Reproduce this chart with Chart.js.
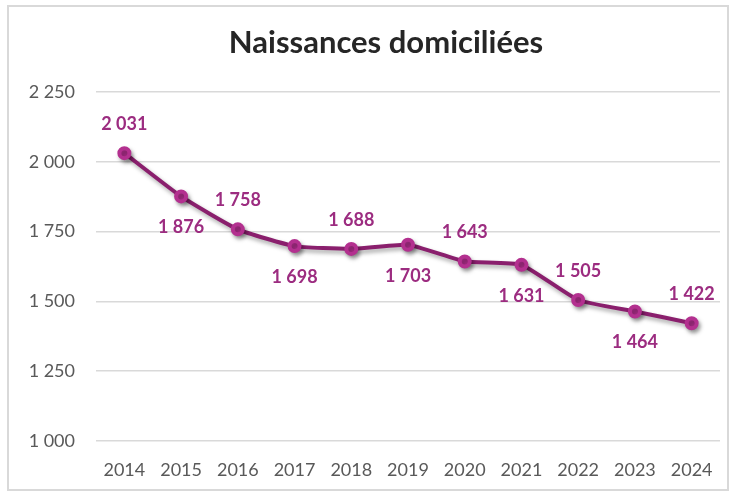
<!DOCTYPE html>
<html lang="fr">
<head>
<meta charset="utf-8">
<title>Naissances domiciliées</title>
<script src="https://cdn.jsdelivr.net/npm/chart.js@4"></script>
<style>
    html, body { margin: 0; padding: 0; background: #fff; }
    #wrap { position: relative; width: 736px; height: 493px; }
</style>
</head>
<body>
<div id="wrap"><canvas id="births"></canvas></div>
<script>
/* ---------- Data ---------- */
const chartTitle = 'Naissances domiciliées';
const years = ['2014', '2015', '2016', '2017', '2018', '2019', '2020', '2021', '2022', '2023', '2024'];
const births = [2031, 1876, 1758, 1698, 1688, 1703, 1643, 1631, 1505, 1464, 1422];
const yTicks = [1000, 1250, 1500, 1750, 2000, 2250];

/* ---------- Helpers ---------- */
const fmt = v => String(v).replace(/\B(?=(\d{3})+(?!\d))/g, ' ');

// grey frame + title (title is centred on the Excel chart box, not the canvas)
const frame = {
    id: 'frame',
    beforeDraw(chart) {
        const c = chart.ctx;
        c.save();
        c.strokeStyle = '#d9d9d9';
        c.lineWidth = 2;
        c.strokeRect(8, 6, 720, 484);
        c.fillStyle = '#262626';
        c.font = 'bold 31px Lato';
        c.textAlign = 'center';
        c.textBaseline = 'middle';
        c.fillText(chartTitle, 386, 43);
        c.restore();
    }
};

// soft drop shadow under the line + value labels
const lineShadow = {
    id: 'lineShadow',
    beforeDatasetsDraw(chart) {
        const c = chart.ctx;
        c.save();
        c.shadowColor = 'rgba(0,0,0,0.35)';
        c.shadowBlur = 4;
        c.shadowOffsetX = 2;
        c.shadowOffsetY = 3;
    },
    afterDatasetsDraw(chart) {
        const c = chart.ctx;
        c.restore();
        const meta = chart.getDatasetMeta(0);
        c.save();
        c.font = 'bold 18px Lato';
        c.fillStyle = '#9c2c80';
        c.textAlign = 'center';
        c.textBaseline = 'middle';
        meta.data.forEach((pt, i) => {
            // labels alternate above / below the points
            const dy = i % 2 === 0 ? -29 : 31;
            c.fillText(fmt(births[i]), pt.x, pt.y + dy);
        });
        c.restore();
    }
};

/* ---------- Chart ---------- */
new Chart(document.getElementById('births'), {
    type: 'line',
    data: {
        labels: years,
        datasets: [{
            data: births,
            borderColor: '#8a1f6d',
            borderWidth: 4,
            pointBackgroundColor: '#b3308f',
            pointBorderColor: '#b3308f',
            pointRadius: 5,
            tension: 0.15
        }]
    },
    options: {
        responsive: true,
        maintainAspectRatio: false,
        animation: false,
        layout: { padding: { left: 25, right: 16, top: 92, bottom: 12 } },
        plugins: {
            legend: { display: false },
            tooltip: { enabled: false },
            title: { display: false }
        },
        scales: {
            x: {
                offset: true,
                afterFit(scale) { scale.height = 40; },
                grid: { display: false, drawTicks: false },
                border: { display: false },
                ticks: {
                    color: '#595959',
                    font: { family: 'Lato', size: 18 },
                    padding: 18,
                    maxRotation: 0
                }
            },
            y: {
                min: 1000,
                max: 2250,
                afterBuildTicks(scale) {
                    scale.ticks = yTicks.map(v => ({ value: v }));
                },
                afterFit(scale) { scale.width = 71; },
                grid: { color: '#d9d9d9', lineWidth: 1.5, drawTicks: false },
                border: { display: false },
                ticks: {
                    color: '#595959',
                    font: { family: 'Lato', size: 18 },
                    padding: 21,
                    callback: v => fmt(v)
                }
            }
        }
    },
    plugins: [frame, lineShadow]
});
</script>
</body>
</html>
